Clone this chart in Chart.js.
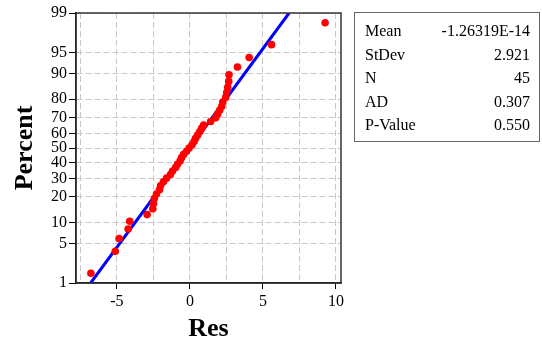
<!DOCTYPE html>
<html>
<head>
<meta charset="utf-8">
<script src="https://cdn.jsdelivr.net/npm/chart.js@4.4.1/dist/chart.umd.min.js"></script>
<style>
  body { margin: 0; background: #fff; }
  #wrap { position: relative; width: 542px; height: 342px; }
  #stats {
    position: absolute; left: 354px; top: 12px; width: 184px; height: 128px;
    border: 1px solid #666; box-sizing: content-box;
    font-family: "Times New Roman", "Liberation Serif", Times, serif; font-size: 16px; color: #000;
  }
  #stats table { border-collapse: collapse; width: 100%; margin-top: 6px; }
  #stats td { height: 23.5px; padding: 0; line-height: 23.5px; }
  #stats td.k { padding-left: 10px; }
  #stats td.v { text-align: right; padding-right: 9px; }
</style>
</head>
<body>
<div id="wrap">
  <canvas id="myChart" width="542" height="342"></canvas>
  <div id="stats"><table id="statTable"></table></div>
</div>
<script>
// residuals, sorted ascending (45 obs)
var residuals = [
  -6.78, -5.11, -4.85, -4.23, -4.12, -2.93, -2.54, -2.49, -2.43, -2.29,
  -2.08, -2.01, -1.81, -1.60, -1.33, -1.19, -0.98, -0.85, -0.67, -0.57,
  -0.43, -0.23, -0.05, 0.15, 0.29, 0.39, 0.53, 0.67, 0.80, 0.94,
  1.42, 1.77, 1.90, 2.04, 2.18, 2.25, 2.45, 2.52, 2.59, 2.66,
  2.68, 3.26, 4.06, 5.59, 9.26
];
var pctTicks = [1, 5, 10, 20, 30, 40, 50, 60, 70, 80, 90, 95, 99];
var statNames = ['Mean', 'StDev', 'N', 'AD', 'P-Value'];
var statValues = ['-1.26319E-14', '2.921', '45', '0.307', '0.550'];
var fitMean = -1.26319e-14;
var fitStDev = 2.921;

// inverse normal cdf (Acklam)
function probit(p) {
  var a = [-3.969683028665376e+01, 2.209460984245205e+02, -2.759285104469687e+02, 1.383577518672690e+02, -3.066479806614716e+01, 2.506628277459239e+00];
  var b = [-5.447609879822406e+01, 1.615858368580409e+02, -1.556989798598866e+02, 6.680131188771972e+01, -1.328068155288572e+01];
  var c = [-7.784894002430293e-03, -3.223964580411365e-01, -2.400758277161838e+00, -2.549732539343734e+00, 4.374664141464968e+00, 2.938163982698783e+00];
  var d = [7.784695709041462e-03, 3.224671290700398e-01, 2.445134137142996e+00, 3.754408661907416e+00];
  var q, r;
  if (p < 0.02425) {
    q = Math.sqrt(-2 * Math.log(p));
    return (((((c[0]*q+c[1])*q+c[2])*q+c[3])*q+c[4])*q+c[5]) / ((((d[0]*q+d[1])*q+d[2])*q+d[3])*q+1);
  } else if (p > 1 - 0.02425) {
    q = Math.sqrt(-2 * Math.log(1 - p));
    return -(((((c[0]*q+c[1])*q+c[2])*q+c[3])*q+c[4])*q+c[5]) / ((((d[0]*q+d[1])*q+d[2])*q+d[3])*q+1);
  }
  q = p - 0.5; r = q * q;
  return (((((a[0]*r+a[1])*r+a[2])*r+a[3])*r+a[4])*r+a[5])*q / (((((b[0]*r+b[1])*r+b[2])*r+b[3])*r+b[4])*r+1);
}

// stats box
var tbl = document.getElementById('statTable');
for (var s = 0; s < statNames.length; s++) {
  var tr = document.createElement('tr');
  tr.innerHTML = '<td class="k">' + statNames[s] + '</td><td class="v">' + statValues[s] + '</td>';
  tbl.appendChild(tr);
}

// median rank plotting positions -> normal score
var n = residuals.length;
var points = residuals.map(function (r, i) {
  return { x: r, y: probit((i + 1 - 0.3) / (n + 0.4)) };
});

var zLo = probit(0.01), zHi = probit(0.99);
var fitLine = [
  { x: fitMean + fitStDev * zLo, y: zLo },
  { x: fitMean + fitStDev * zHi, y: zHi }
];

var serif = '"Times New Roman", "Liberation Serif", Times, serif';

var frame = {
  id: 'frame',
  afterDraw: function (chart) {
    var a = chart.chartArea, c = chart.ctx;
    c.save();
    c.strokeStyle = '#333';
    c.lineWidth = 1.5;
    c.strokeRect(a.left, a.top, a.right - a.left, a.bottom - a.top);
    c.restore();
  }
};

var ctx = document.getElementById('myChart');
new Chart(ctx, {
  type: 'scatter',
  data: {
    datasets: [{
      label: 'Res',
      data: points,
      backgroundColor: '#ff0000',
      borderWidth: 0,
      pointRadius: 3.8,
      order: 0
    }, {
      type: 'line',
      label: 'fit',
      data: fitLine,
      borderColor: '#0000ff',
      borderWidth: 3,
      pointRadius: 0,
      fill: false,
      order: 1
    }]
  },
  plugins: [frame],
  options: {
    responsive: false,
    animation: false,
    layout: { padding: { left: 0, top: 13, right: 201, bottom: 0 } },
    plugins: { legend: { display: false }, tooltip: { enabled: false } },
    scales: {
      x: {
        type: 'linear',
        min: -7.8,
        max: 10.35,
        afterFit: function (scale) { scale.height = 59; },
        ticks: {
          stepSize: 2.5,
          includeBounds: false,
          autoSkip: false,
          maxRotation: 0,
          padding: 3,
          color: '#000',
          font: { family: serif, size: 16 },
          callback: function (v) { return v % 5 === 0 ? String(v) : ''; }
        },
        grid: {
          color: '#c8c8c8',
          tickLength: 6,
          tickColor: function (c) { return c.tick && c.tick.value % 5 === 0 ? '#000' : 'rgba(0,0,0,0)'; }
        },
        border: { color: '#000', width: 1.5, dash: [6, 3] },
        title: {
          display: true,
          text: 'Res',
          color: '#000',
          font: { family: serif, size: 26, weight: 'bold' },
          padding: { top: 0, bottom: -3 }
        }
      },
      y: {
        type: 'linear',
        min: zLo,
        max: zHi,
        afterFit: function (scale) { scale.width = 76; },
        afterBuildTicks: function (scale) {
          scale.ticks = pctTicks.map(function (p) { return { value: probit(p / 100) }; });
        },
        ticks: {
          autoSkip: false,
          padding: 2,
          color: '#000',
          font: { family: serif, size: 16 },
          callback: function (v, i) { return String(pctTicks[i]); }
        },
        grid: {
          color: '#c8c8c8',
          tickLength: 7,
          tickColor: '#000'
        },
        border: { color: '#000', width: 1.5, dash: [6, 3] },
        title: {
          display: true,
          text: 'Percent',
          color: '#000',
          font: { family: serif, size: 26, weight: 'bold' },
          padding: { top: 10, bottom: 0 }
        }
      }
    }
  }
});
</script>
</body>
</html>
